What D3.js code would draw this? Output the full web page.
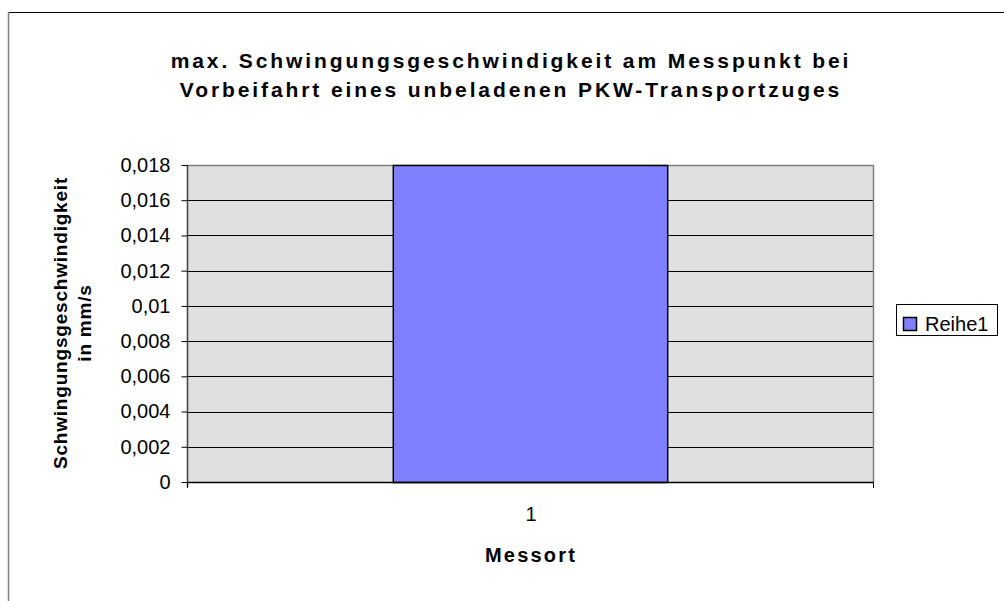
<!DOCTYPE html>
<html>
<head>
<meta charset="utf-8">
<script src="https://cdn.jsdelivr.net/npm/d3@7"></script>
<style>
  html, body { margin: 0; padding: 0; background: #fff; }
  svg { display: block; font-family: "Liberation Sans", Arial, sans-serif; }
</style>
</head>
<body>
<svg id="chart" width="1004" height="601"></svg>
<script>
// Data
const categories = ["1"];
const seriesName = "Reihe1";
const values = [0.018];
const yTicks = [0, 0.002, 0.004, 0.006, 0.008, 0.01, 0.012, 0.014, 0.016, 0.018];
const titleLines = ["max. Schwingungsgeschwindigkeit am Messpunkt bei", "Vorbeifahrt eines unbeladenen PKW-Transportzuges"];
const yLabelLines = ["Schwingungsgeschwindigkeit", "in mm/s"];
const xLabel = "Messort";

const svg = d3.select("#chart");

// outer chart frame (continues past the right/bottom edge)
svg.append("rect")
  .attr("x", 8.5).attr("y", 12.5)
  .attr("width", 1100).attr("height", 700)
  .attr("fill", "#fff").attr("stroke", "#000").attr("stroke-width", 1);
svg.append("line")
  .attr("x1", 8.5).attr("x2", 8.5).attr("y1", 12).attr("y2", 601)
  .attr("stroke", "#808080").attr("stroke-width", 1.5);

const plot = { left: 187, top: 165, right: 873, bottom: 482 };

const x = d3.scaleBand()
  .domain(categories)
  .range([plot.left, plot.right]);
// gap width 150%: bar = band / 2.5, centered in its band
const barW = x.bandwidth() / 2.5;

const y = d3.scaleLinear()
  .domain([0, 0.018])
  .range([plot.bottom, plot.top]);

// plot background
svg.append("rect")
  .attr("x", plot.left).attr("y", plot.top)
  .attr("width", plot.right - plot.left).attr("height", plot.bottom - plot.top)
  .attr("fill", "#e0e0e0");

// gridlines
svg.append("g").selectAll("line")
  .data(yTicks.filter(d => d > 0 && d < 0.018))
  .join("line")
  .attr("x1", plot.left).attr("x2", plot.right)
  .attr("y1", d => Math.round(y(d)) + 0.5).attr("y2", d => Math.round(y(d)) + 0.5)
  .attr("stroke", "#000").attr("stroke-width", 1);

// plot border (top and right in gray)
svg.append("path")
  .attr("d", `M${plot.left},${plot.top + 0.5}H${plot.right + 0.5}V${plot.bottom}`)
  .attr("fill", "none").attr("stroke", "#808080").attr("stroke-width", 1.5);

// bars
svg.append("g").selectAll("rect")
  .data(values)
  .join("rect")
  .attr("x", (d, i) => x(categories[i]) + (x.bandwidth() - barW) / 2 + 0.5)
  .attr("y", d => y(d) + 0.5)
  .attr("width", barW)
  .attr("height", d => plot.bottom - y(d))
  .attr("fill", "#8080ff")
  .attr("stroke", "#000").attr("stroke-width", 1.5);

// y axis
const yAxis = d3.axisLeft(y)
  .tickValues(yTicks)
  .tickSize(6)
  .tickPadding(11)
  .tickFormat(d => d === 0 ? "0" : String(+d.toFixed(3)).replace(".", ","));
const yg = svg.append("g")
  .attr("transform", `translate(${plot.left + 0.5},0)`)
  .call(yAxis);
yg.select(".domain").attr("stroke", "#404040").attr("stroke-width", 1.5).attr("d", `M0,${plot.top}V${plot.bottom + 5}`);
yg.selectAll(".tick line").attr("stroke", "#000");
yg.selectAll(".tick text")
  .attr("font-size", 20).attr("fill", "#000")
  .attr("font-family", "'Liberation Sans', Arial, sans-serif");

// x axis
const xEdges = d3.scaleLinear().domain([0, categories.length]).range([plot.left, plot.right]);
const xg = svg.append("g");
xg.append("line")
  .attr("x1", plot.left).attr("x2", plot.right + 0.5)
  .attr("y1", plot.bottom + 0.5).attr("y2", plot.bottom + 0.5)
  .attr("stroke", "#000").attr("stroke-width", 1.5);
xg.selectAll("line.tk")
  .data(d3.range(categories.length + 1))
  .join("line").attr("class", "tk")
  .attr("x1", d => xEdges(d) + 0.5).attr("x2", d => xEdges(d) + 0.5)
  .attr("y1", plot.bottom).attr("y2", plot.bottom + 6)
  .attr("stroke", "#000");
xg.selectAll("text")
  .data(categories)
  .join("text")
  .attr("x", d => x(d) + x.bandwidth() / 2 + 1)
  .attr("y", 521)
  .attr("text-anchor", "middle")
  .attr("font-size", 20)
  .text(d => d);

// title
svg.append("text")
  .attr("text-anchor", "middle")
  .attr("font-size", 21).attr("font-weight", "bold")
  .attr("letter-spacing", 2.9)
  .selectAll("tspan")
  .data(titleLines)
  .join("tspan")
  .attr("x", 511)
  .attr("y", (d, i) => 68 + i * 29)
  .text(d => d);

// x axis title
svg.append("text")
  .attr("x", 531).attr("y", 562)
  .attr("text-anchor", "middle")
  .attr("font-size", 20).attr("font-weight", "bold")
  .attr("letter-spacing", 2.2)
  .text(xLabel);

// y axis title (rotated, two lines)
const yl = svg.append("g").attr("transform", "translate(67,323) rotate(-90)");
yl.selectAll("text")
  .data(yLabelLines)
  .join("text")
  .attr("x", 0)
  .attr("y", (d, i) => i * 24)
  .attr("text-anchor", "middle")
  .attr("font-size", 19).attr("font-weight", "bold")
  .attr("letter-spacing", 0.8)
  .text(d => d);

// legend
const lg = svg.append("g").attr("transform", "translate(896,304)");
lg.append("rect")
  .attr("x", 0.5).attr("y", 0.5).attr("width", 101).attr("height", 31)
  .attr("fill", "#fff").attr("stroke", "#000");
lg.append("rect")
  .attr("x", 7.5).attr("y", 13.5).attr("width", 13).attr("height", 13)
  .attr("fill", "#8080ff").attr("stroke", "#000").attr("stroke-width", 1.5);
lg.append("text")
  .attr("x", 29).attr("y", 27)
  .attr("font-size", 20)
  .text(seriesName);
</script>
</body>
</html>
